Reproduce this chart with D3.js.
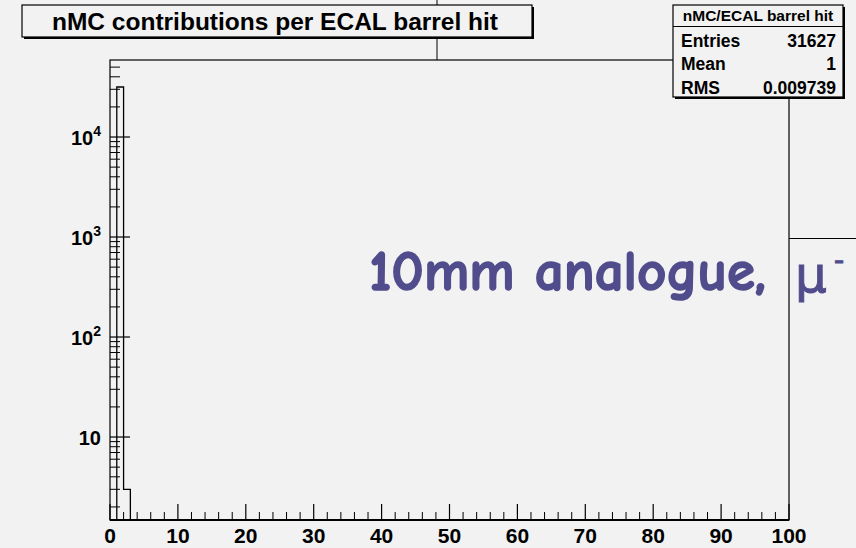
<!DOCTYPE html>
<html>
<head>
<meta charset="utf-8">
<script src="https://cdn.jsdelivr.net/npm/d3@7"></script>
<style>
  body { margin: 0; background: #f2f2f2; }
  svg { display: block; }
  text { font-family: "Liberation Sans", Arial, sans-serif; font-weight: bold; fill: #000; }
</style>
</head>
<body>
<div id="chart"></div>
<script>
// histogram: 100 bins over [0,100], only non-empty bins listed
const histRange = [0, 100];
const nBins = 100;
const filledBins = [1, 2];          // lower edge of each filled bin
const filledCounts = [31624, 3];

const xTicks = [0, 10, 20, 30, 40, 50, 60, 70, 80, 90, 100];
const yDecades = [10, 100, 1000, 10000];
const yDecadeLabels = [["10", ""], ["10", "2"], ["10", "3"], ["10", "4"]];

const titleText = "nMC contributions per ECAL barrel hit";
const statsTitle = "nMC/ECAL barrel hit";
const statLabels = ["Entries", "Mean", "RMS"];
const statValues = ["31627", "1", "0.009739"];
const noteText = "10mm analogue,";
const noteParticle = ["\u03bc", "-"];

const W = 856, H = 548;
const margin = {top: 60, right: 67, bottom: 28, left: 110};
const innerW = W - margin.left - margin.right,
      innerH = H - margin.top - margin.bottom;

const svg = d3.select("#chart").append("svg")
    .attr("width", W)
    .attr("height", H);

svg.append("rect").attr("width", W).attr("height", H).attr("fill", "#f2f2f2");

const x = d3.scaleLinear().domain(histRange).range([0, innerW]);
const y = d3.scaleLog().domain([1.48, 58900]).range([innerH, 0]);

const chart = svg.append("g")
    .attr("transform", "translate(" + margin.left + "," + margin.top + ")");

// stray pad edges
svg.append("line").attr("x1", 437).attr("x2", 437).attr("y1", 0).attr("y2", margin.top)
    .attr("stroke", "#000").attr("stroke-width", 1);
svg.append("line").attr("x1", margin.left + innerW).attr("x2", W).attr("y1", 238.5).attr("y2", 238.5)
    .attr("stroke", "#000").attr("stroke-width", 1.2);

// frame
chart.append("rect")
    .attr("width", innerW).attr("height", innerH)
    .attr("fill", "none").attr("stroke", "#000").attr("stroke-width", 1.2);

// histogram outline (step)
const counts = new Array(nBins).fill(0);
filledBins.forEach((b, i) => { counts[b] = filledCounts[i]; });
const pts = [[x(histRange[0]), innerH]];
counts.forEach((c, i) => {
    const yy = c > 0 ? y(c) : innerH;
    pts.push([x(i), yy]);
    pts.push([x(i + 1), yy]);
});
pts.push([x(histRange[1]), innerH]);
chart.append("path")
    .attr("d", d3.line()(pts))
    .attr("fill", "none").attr("stroke", "#000").attr("stroke-width", 1.3);

// x axis ticks (ROOT style, inside)
const xMinor = d3.range(0, 101, 2).filter(v => v % 10 !== 0);
chart.selectAll(".xminor").data(xMinor).enter().append("line")
    .attr("x1", d => x(d)).attr("x2", d => x(d))
    .attr("y1", innerH).attr("y2", innerH - 8)
    .attr("stroke", "#000").attr("stroke-width", 1);
chart.selectAll(".xmajor").data(xTicks).enter().append("line")
    .attr("x1", d => x(d)).attr("x2", d => x(d))
    .attr("y1", innerH).attr("y2", innerH - 16)
    .attr("stroke", "#000").attr("stroke-width", 1.2);
chart.selectAll(".xlab").data(xTicks).enter().append("text")
    .attr("x", d => x(d)).attr("y", innerH + 23)
    .attr("text-anchor", "middle")
    .style("font-size", "21px")
    .text(d => d);
chart.append("line").attr("x1", 0).attr("x2", innerW).attr("y1", innerH).attr("y2", innerH)
    .attr("stroke", "#000").attr("stroke-width", 2);

// y axis ticks (log)
const yMinor = [];
[1, 10, 100, 1000, 10000].forEach(dec => {
    for (let k = 2; k <= 9; k++) {
        const v = k * dec;
        if (v >= y.domain()[0] && v <= y.domain()[1]) yMinor.push(v);
    }
});
chart.selectAll(".yminor").data(yMinor).enter().append("line")
    .attr("x1", 0).attr("x2", 10)
    .attr("y1", d => y(d)).attr("y2", d => y(d))
    .attr("stroke", "#000").attr("stroke-width", 1);
chart.selectAll(".ymajor").data(yDecades).enter().append("line")
    .attr("x1", 0).attr("x2", 20)
    .attr("y1", d => y(d)).attr("y2", d => y(d))
    .attr("stroke", "#000").attr("stroke-width", 1.2);
const ylab = chart.selectAll(".ylab").data(yDecades).enter().append("text")
    .attr("x", -9).attr("y", d => y(d) + 8)
    .attr("text-anchor", "end")
    .style("font-size", "20px");
ylab.append("tspan").text((d, i) => yDecadeLabels[i][0]);
ylab.append("tspan").attr("dy", -9).style("font-size", "14px").text((d, i) => yDecadeLabels[i][1]);

// title box
svg.append("rect").attr("x", 24).attr("y", 7).attr("width", 510).attr("height", 32).attr("fill", "#000");
svg.append("rect").attr("x", 22).attr("y", 5).attr("width", 510).attr("height", 32)
    .attr("fill", "#f2f2f2").attr("stroke", "#000").attr("stroke-width", 1.2);
svg.append("text").attr("x", 275).attr("y", 30).attr("text-anchor", "middle")
    .style("font-size", "24.5px").text(titleText);

// stats box
const sx = 673, sy = 5, sw = 170, sh = 92;
svg.append("rect").attr("x", sx + 2).attr("y", sy + 2).attr("width", sw).attr("height", sh).attr("fill", "#000");
svg.append("rect").attr("x", sx).attr("y", sy).attr("width", sw).attr("height", sh)
    .attr("fill", "#f2f2f2").attr("stroke", "#000").attr("stroke-width", 1.2);
svg.append("line").attr("x1", sx).attr("x2", sx + sw).attr("y1", 26.5).attr("y2", 26.5)
    .attr("stroke", "#000").attr("stroke-width", 1.2);
svg.append("text").attr("x", sx + sw / 2).attr("y", 21).attr("text-anchor", "middle")
    .style("font-size", "15.5px").text(statsTitle);
statLabels.forEach((lab, i) => {
    const yy = 46.5 + i * 23.5;
    svg.append("text").attr("x", sx + 8).attr("y", yy).style("font-size", "17.5px").text(lab);
    svg.append("text").attr("x", sx + sw - 7).attr("y", yy).attr("text-anchor", "end")
        .style("font-size", "17.5px").text(statValues[i]);
});

// annotation
const noteColor = "#514c8c";
const note = svg.append("text")
    .attr("x", 369).attr("y", 290)
    .style("font-family", "'Comic Sans MS', 'Comic Neue', 'DejaVu Sans', sans-serif")
    .style("font-weight", "bold")
    .style("fill", noteColor)
    .style("stroke", noteColor)
    .style("stroke-width", 1.6)
    .style("stroke-linejoin", "round")
    .style("font-size", "40px")
    .text(noteText);
const meas = note.node().getComputedTextLength();
note.style("font-size", (40 * (766 - 369) / meas) + "px");

svg.append("text")
    .attr("x", 795).attr("y", 292)
    .style("font-family", "'DejaVu Sans', sans-serif")
    .style("font-weight", "normal")
    .style("fill", noteColor)
    .style("stroke", noteColor).style("stroke-width", 1)
    .style("font-size", "50px")
    .text(noteParticle[0]);
svg.append("text")
    .attr("x", 834).attr("y", 270)
    .style("font-family", "'DejaVu Sans', sans-serif")
    .style("font-weight", "normal")
    .style("fill", noteColor)
    .style("stroke", noteColor).style("stroke-width", 1)
    .style("font-size", "28px")
    .text(noteParticle[1]);
</script>
</body>
</html>
